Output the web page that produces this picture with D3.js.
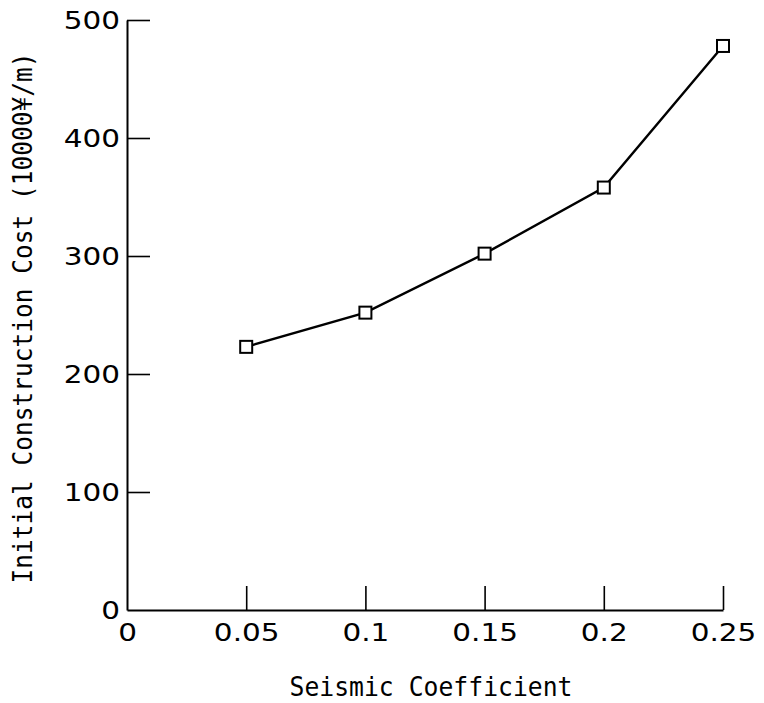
<!DOCTYPE html>
<html>
<head>
<meta charset="utf-8">
<script src="https://cdn.jsdelivr.net/npm/d3@7"></script>
<style>
  body { margin: 0; background: #fff; }
  svg { display: block; }
</style>
</head>
<body>
<svg id="chart" width="764" height="703"></svg>
<script>
// values
const seismicCoef = [0.05, 0.1, 0.15, 0.2, 0.25];
const initialCost = [223, 252, 302, 358, 478];
const xTickValues = [0, 0.05, 0.1, 0.15, 0.2, 0.25];
const xTickLabels = ["0", "0.05", "0.1", "0.15", "0.2", "0.25"];
const yTickValues = [0, 100, 200, 300, 400, 500];

const svg = d3.select("#chart");

const x = d3.scaleLinear().domain([0, 0.25]).range([127, 723]);
const y = d3.scaleLinear().domain([0, 500]).range([610, 20]);

const tickFont = "'DejaVu Sans', sans-serif";
const titleFont = "'DejaVu Sans Mono', monospace";

// y axis, ticks point into the plot
const yAxis = svg.append("g")
    .attr("transform", `translate(${x(0)},0)`)
    .call(d3.axisLeft(y)
        .tickValues(yTickValues)
        .tickSizeInner(-23)
        .tickSizeOuter(0)
        .tickPadding(7));

// x axis, ticks point up
const xAxis = svg.append("g")
    .attr("transform", `translate(0,${y(0)})`)
    .call(d3.axisBottom(x)
        .tickValues(xTickValues)
        .tickFormat((d, i) => xTickLabels[i])
        .tickSizeInner(-24)
        .tickSizeOuter(0)
        .tickPadding(13));

[yAxis, xAxis].forEach(ax => {
    ax.select(".domain").attr("stroke", "#000").attr("stroke-width", 2);
    ax.selectAll(".tick line").attr("stroke", "#000").attr("stroke-width", 1.6);
    ax.selectAll(".tick text")
        .attr("fill", "#000")
        .style("font-family", tickFont)
        .style("font-size", "25px")
        .each(function () {
            // the original digits are wider and rounder, stretch them a bit
            const w = this.getComputedTextLength();
            d3.select(this)
                .attr("textLength", w * 1.18)
                .attr("lengthAdjust", "spacingAndGlyphs");
        });
});

// zero ticks coincide with the axes
yAxis.selectAll(".tick").filter(d => d === 0).select("line").remove();
xAxis.selectAll(".tick").filter(d => d === 0).select("line").remove();

// line
const pts = seismicCoef.map((c, i) => [c, initialCost[i]]);
svg.append("path")
    .datum(pts)
    .attr("fill", "none")
    .attr("stroke", "#000")
    .attr("stroke-width", 2.4)
    .attr("d", d3.line().x(d => x(d[0])).y(d => y(d[1])));

// square markers
const ms = 12;
svg.selectAll("rect.marker")
    .data(pts)
    .enter()
    .append("rect")
    .attr("class", "marker")
    .attr("x", d => x(d[0]) - ms / 2)
    .attr("y", d => y(d[1]) - ms / 2)
    .attr("width", ms)
    .attr("height", ms)
    .attr("fill", "#fff")
    .attr("stroke", "#000")
    .attr("stroke-width", 2);

// axis titles
svg.append("text")
    .attr("x", 431)
    .attr("y", 696)
    .attr("text-anchor", "middle")
    .attr("textLength", 283)
    .attr("lengthAdjust", "spacingAndGlyphs")
    .style("font-family", titleFont)
    .style("font-size", "27px")
    .text("Seismic Coefficient");

svg.append("text")
    .attr("transform", "translate(32,318) rotate(-90)")
    .attr("text-anchor", "middle")
    .attr("textLength", 531)
    .attr("lengthAdjust", "spacingAndGlyphs")
    .style("font-family", titleFont)
    .style("font-size", "27px")
    .text("Initial Construction Cost (10000¥/m)");
</script>
</body>
</html>
